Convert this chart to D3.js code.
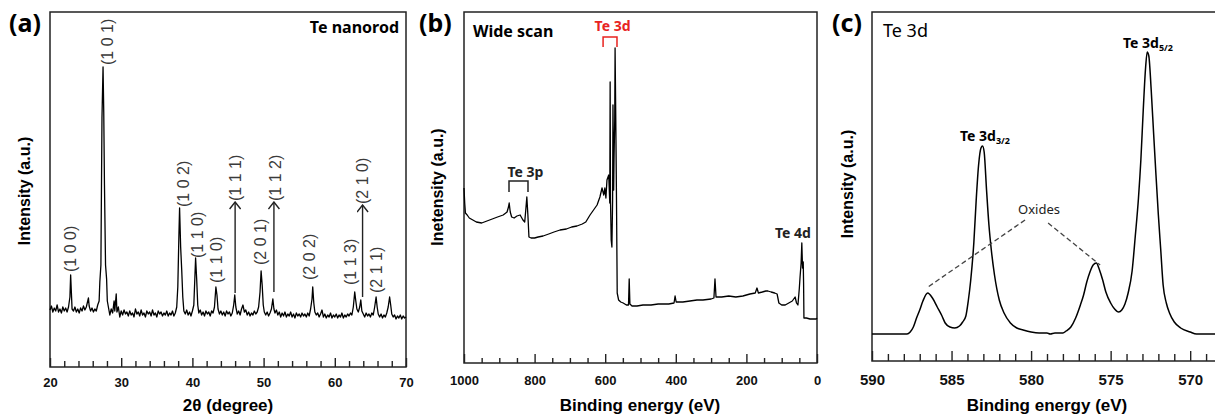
<!DOCTYPE html>
<html>
<head>
<meta charset="utf-8">
<script src="https://cdn.jsdelivr.net/npm/d3@7"></script>
<style>
  body { margin: 0; background: #fff; }
  svg { display: block; }
</style>
</head>
<body>
<div id="chart"></div>
<script>
// (a) XRD pattern, [2theta (deg), intensity (a.u.)]
const xrdScan = [
  [20.0,57],[20.2,61],[20.4,55],[20.6,59],[20.8,56],[21.0,62],[21.2,55],[21.4,58],[21.6,54],[21.8,60],
  [22.0,56],[22.2,59],[22.4,55],[22.6,60],[22.8,70],[22.9,92],[23.0,75],[23.1,58],[23.3,56],[23.5,60],
  [23.7,55],[23.9,58],[24.1,54],[24.3,59],[24.5,56],[24.7,61],[24.9,57],[25.1,60],[25.3,66],[25.4,69],
  [25.5,61],[25.7,56],[25.9,59],[26.1,55],[26.3,58],[26.5,56],[26.7,62],[26.9,66],[27.0,85],[27.15,102],
  [27.3,249],[27.45,300],[27.55,255],[27.65,182],[27.8,102],[27.95,88],[28.05,66],[28.2,60],[28.4,52],[28.6,58],
  [28.8,54],[29.0,66],[29.1,56],[29.3,73],[29.4,55],[29.6,60],[29.8,50],[30.0,56],[30.2,52],[30.4,57],
  [30.6,53],[30.8,55],[31.0,51],[31.2,56],[31.4,52],[31.6,54],[31.8,50],[32.0,58],[32.2,53],[32.4,55],
  [32.6,51],[32.8,57],[33.0,52],[33.2,54],[33.4,50],[33.6,56],[33.8,53],[34.0,55],[34.2,51],[34.4,57],
  [34.6,52],[34.8,54],[35.0,50],[35.2,56],[35.4,53],[35.6,55],[35.8,51],[36.0,54],[36.2,52],[36.4,56],
  [36.6,51],[36.8,54],[37.0,52],[37.2,56],[37.4,51],[37.6,54],[37.8,60],[37.95,80],[38.1,130],[38.2,159],
  [38.35,120],[38.5,97],[38.65,70],[38.8,56],[39.0,53],[39.2,57],[39.4,52],[39.6,55],[39.8,51],[40.0,56],
  [40.2,62],[40.35,90],[40.45,109],[40.6,88],[40.75,62],[40.9,54],[41.1,57],[41.3,52],[41.5,55],[41.7,51],
  [41.9,56],[42.1,53],[42.3,55],[42.5,51],[42.7,56],[42.9,54],[43.1,60],[43.3,80],[43.45,72],[43.6,58],
  [43.8,53],[44.0,56],[44.2,52],[44.4,55],[44.6,51],[44.8,56],[45.0,53],[45.2,55],[45.4,51],[45.6,54],
  [45.8,62],[45.95,72],[46.1,60],[46.3,53],[46.5,56],[46.7,52],[46.9,58],[47.1,62],[47.3,55],[47.5,57],
  [47.7,52],[47.9,55],[48.1,51],[48.3,54],[48.5,52],[48.7,56],[48.9,53],[49.1,55],[49.3,60],[49.5,75],
  [49.65,96],[49.8,82],[49.95,62],[50.1,55],[50.3,52],[50.5,55],[50.7,51],[50.9,54],[51.1,58],[51.3,68],
  [51.45,58],[51.6,54],[51.8,57],[52.0,52],[52.2,55],[52.4,50],[52.6,54],[52.8,51],[53.0,55],[53.2,50],
  [53.4,53],[53.6,51],[53.8,55],[54.0,50],[54.2,53],[54.4,49],[54.6,54],[54.8,51],[55.0,53],[55.2,50],
  [55.4,54],[55.6,51],[55.8,53],[56.0,50],[56.2,54],[56.4,51],[56.6,58],[56.8,68],[56.9,80],[57.05,64],
  [57.2,55],[57.4,52],[57.6,54],[57.8,50],[58.0,53],[58.2,57],[58.4,50],[58.6,53],[58.8,49],[59.0,52],
  [59.2,50],[59.4,54],[59.6,49],[59.8,52],[60.0,50],[60.2,53],[60.4,49],[60.6,52],[60.8,50],[61.0,54],
  [61.2,49],[61.4,52],[61.6,50],[61.8,53],[62.0,51],[62.2,54],[62.4,52],[62.6,60],[62.8,75],[62.95,66],
  [63.1,58],[63.3,55],[63.5,60],[63.65,67],[63.8,56],[64.0,53],[64.2,50],[64.4,54],[64.6,51],[64.8,53],
  [65.0,50],[65.2,54],[65.4,52],[65.6,60],[65.8,70],[65.95,60],[66.1,53],[66.3,50],[66.5,53],[66.7,49],
  [66.9,52],[67.1,50],[67.3,54],[67.5,60],[67.7,70],[67.85,62],[68.0,53],[68.2,50],[68.4,52],[68.6,48],
  [68.8,51],[69.0,49],[69.2,52],[69.4,48],[69.6,51],[69.8,49],[70.0,50]
]
const xrdTicks = [20, 30, 40, 50, 60, 70]
// hkl labels: angle, intensity at the start of the (rotated) text
const xrdLabels = [
  ['(1 0 0)', 22.8, 95], ['(1 0 1)', 28.1, 302], ['(1 0 2)', 38.7, 160], ['(1 1 0)', 40.65, 109],
  ['(1 1 0)', 43.3, 84], ['(1 1 1)', 46.0, 166], ['(2 0 1)', 49.5, 102], ['(1 1 2)', 51.7, 166],
  ['(2 0 2)', 56.4, 87], ['(1 1 3)', 62.1, 82], ['(2 1 0)', 63.8, 163], ['(2 1 1)', 65.8, 74]
]
const xrdArrows = [[46.0, 74, 165], [51.45, 75, 165], [63.9, 70, 162]]

// (b) XPS wide scan, [binding energy (eV), intensity (a.u.)]
const xpsWide = [
  [1000,175],[998,160],[996,150],[991,148],[985,145],[975,143],[965,141],[950,140],[935,142],[920,144],
  [905,146],[889,148],[878,151],[874,156],[872,160],[869,151],[865,146],[858,145],[850,147],[841,148],
  [833,143],[828,141],[825,153],[822,166],[819,148],[816,126],[810,125],[800,125],[790,126],[776,127],
  [760,129],[745,131],[728,133],[710,134],[695,136],[680,137],[665,139],[655,141],[643,148],[633,153],
  [623,158],[615,166],[609,175],[604,168],[601,175],[598,165],[595,183],[590,188],[587,160],[586,281],
  [585,163],[583,123],[581,116],[579,163],[578,258],[576,173],[575,203],[573,243],[572,315],[570,243],
  [568,163],[566,70],[562,63],[556,61],[549,60],[540,58],[534,58],[532,84],[530,59],[524,57],
  [510,57],[493,58],[470,58],[450,59],[420,59],[405,60],[402,67],[399,61],[380,61],[360,62],
  [340,63],[323,63],[300,64],[292,65],[289,84],[286,66],[270,66],[250,67],[230,66],[210,67],
  [190,69],[175,70],[170,75],[166,70],[155,71],[145,72],[139,72],[130,71],[120,70],[113,69],
  [108,60],[100,58],[90,58],[80,60],[70,62],[62,66],[58,60],[54,58],[50,75],[48,86],
  [45,100],[43,120],[41,95],[39,101],[38,80],[37,45],[30,45],[20,44],[10,44],[2,44],[0,45]
]
const wideTicks = [1000, 800, 600, 400, 200, 0]
const wideLabels = [['Te 3p', 877, 186, '#222'], ['Te 3d', 630, 332, '#e8231f'], ['Te 4d', 119, 125, '#222']]
// brackets: from BE, to BE, top intensity, leg intensity
const wideBrackets = [[872.5, 818.7, 182, 171, '#222'], [606, 566.6, 326, 316, '#e8231f']]

// (c) XPS Te 3d core level, [binding energy (eV), intensity (a.u.)]
const xpsTe3d = [
  [590,27],[589,27],[588.4,27],[588,27],[587.8,27],[587.6,29],[587.4,34],[587.2,43],[587.0,51],[586.8,60],
  [586.5,68],[586.2,63],[585.9,54],[585.6,45],[585.4,38],[585.1,34],[584.8,33],[584.5,35],[584.3,39],[584.1,45],
  [583.95,60],[583.8,80],[583.6,118],[583.45,161],[583.3,196],[583.15,213],[583.05,215],[582.95,209],[582.8,171],[582.65,136],
  [582.5,111],[582.3,86],[582.0,61],[581.7,48],[581.3,38],[580.9,33],[580.5,31],[580.0,29],[579.5,28],[579.0,28],
  [578.8,27],[578.5,28],[578.0,28],[577.8,30],[577.5,34],[577.2,43],[576.9,56],[576.7,66],[576.5,79],[576.3,89],
  [576.1,96],[575.9,98],[575.7,91],[575.5,81],[575.3,69],[575.0,58],[574.75,52],[574.5,49],[574.3,51],[574.1,57],
  [573.9,68],[573.65,90],[573.45,125],[573.25,163],[573.1,201],[572.95,251],[572.8,294],[572.7,309],[572.6,305],[572.45,271],
  [572.3,228],[572.15,186],[572.0,146],[571.85,111],[571.7,76],[571.5,58],[571.3,48],[571.0,39],[570.6,33],[570.0,29],
  [569.6,27],[569,27],[568,27]
]
const te3dTicks = [590, 585, 580, 575, 570]
const oxideLeaders = [[[580.38, 141], [586.48, 74]], [[578.93, 138], [575.66, 96]]]

const svg = d3.select('#chart').append('svg')
  .attr('width', 1215)
  .attr('height', 418)

// open chevron, always pointing up
svg.append('defs').append('marker')
  .attr('id', 'head')
  .attr('viewBox', '0 0 12 10')
  .attr('refX', 6).attr('refY', 1)
  .attr('markerWidth', 12).attr('markerHeight', 10)
  .attr('markerUnits', 'userSpaceOnUse')
  .attr('orient', '0')
  .append('path')
  .attr('d', 'M0.5,8 L6,1 L11.5,8')
  .attr('fill', 'none').attr('stroke', '#222').attr('stroke-width', 1.4)

const AXIS_FONT = 'Liberation Sans, Arial, sans-serif'
const LABEL_FONT = 'Noto Sans, Open Sans, sans-serif'

// frame, ticks, axis titles for one panel
const drawPanel = (p) => {
  const g = svg.append('g')
  const x = d3.scaleLinear().domain(p.xDomain).range([p.left, p.right])
  const y = d3.scaleLinear().domain(p.yDomain).range([p.bottom, p.top])

  g.append('g').attr('transform', `translate(0,${p.bottom})`)
    .call(d3.axisBottom(x).tickValues(p.minor).tickSize(-p.minorLen).tickFormat(''))
  const major = g.append('g').attr('transform', `translate(0,${p.bottom})`)
    .call(d3.axisBottom(x).tickValues(p.major).tickSize(-p.majorLen).tickPadding(p.pad).tickFormat(d3.format('d')))
  g.selectAll('.domain').remove()
  g.selectAll('.tick line').attr('stroke', '#222').attr('stroke-width', 1.4)
  major.selectAll('text')
    .attr('font-family', AXIS_FONT).attr('font-weight', 'bold')
    .attr('font-size', p.tickFont).attr('fill', '#111')

  g.append('rect')
    .attr('x', p.left).attr('y', p.top)
    .attr('width', p.right - p.left).attr('height', p.bottom - p.top)
    .attr('fill', 'none').attr('stroke', '#222').attr('stroke-width', 1.5)

  g.append('text')
    .attr('x', p.titleX).attr('y', 411)
    .attr('text-anchor', 'middle')
    .attr('font-family', AXIS_FONT).attr('font-weight', 'bold').attr('font-size', 17)
    .text(p.xTitle)
  g.append('text')
    .attr('transform', `translate(${p.yTitleX},${p.yTitleY}) rotate(-90)`)
    .attr('text-anchor', 'middle')
    .attr('font-family', AXIS_FONT).attr('font-weight', 'bold').attr('font-size', 16)
    .text(p.yTitle)
  g.append('text')
    .attr('x', p.letterX).attr('y', 32)
    .attr('font-family', LABEL_FONT).attr('font-weight', 'bold').attr('font-size', 25)
    .text(p.letter)

  g.append('path')
    .datum(p.data)
    .attr('d', d3.line().x(d => x(d[0])).y(d => y(d[1])).curve(p.curve || d3.curveLinear))
    .attr('fill', 'none').attr('stroke', '#000').attr('stroke-width', p.lineWidth)
    .attr('stroke-linejoin', 'round')

  return { g, x, y }
}

// (a)
const a = drawPanel({
  left: 50, right: 406, top: 12, bottom: 367,
  xDomain: [20, 70], yDomain: [0, 355],
  major: xrdTicks, minor: d3.range(22, 70, 2).filter(v => v % 10 != 0),
  majorLen: 9, minorLen: 6, pad: 11, tickFont: 13,
  xTitle: '2θ (degree)', titleX: 228,
  yTitle: 'Intensity (a.u.)', yTitleX: 30, yTitleY: 191,
  letter: '(a)', letterX: 9,
  data: xrdScan, lineWidth: 1.3
})
a.g.append('text')
  .attr('x', 399).attr('y', 33).attr('text-anchor', 'end')
  .attr('font-family', LABEL_FONT).attr('font-weight', 'bold').attr('font-size', 16)
  .text('Te nanorod')
a.g.selectAll('.hkl').data(xrdLabels).join('text')
  .attr('class', 'hkl')
  .attr('transform', d => `translate(${a.x(d[1])},${a.y(d[2])}) rotate(-90)`)
  .attr('dy', '0.36em')
  .attr('font-family', AXIS_FONT).attr('font-size', 16).attr('fill', '#3a3a3a')
  .text(d => d[0])
a.g.selectAll('.arrow').data(xrdArrows).join('line')
  .attr('class', 'arrow')
  .attr('x1', d => a.x(d[0])).attr('x2', d => a.x(d[0]))
  .attr('y1', d => a.y(d[1])).attr('y2', d => a.y(d[2]))
  .attr('stroke', '#222').attr('stroke-width', 1.4)
  .attr('marker-end', 'url(#head)')

// (b)
const b = drawPanel({
  left: 464, right: 817, top: 12, bottom: 363,
  xDomain: [1000, 0], yDomain: [0, 351],
  major: wideTicks, minor: d3.range(50, 1000, 50).filter(v => v % 200 != 0),
  majorLen: 9, minorLen: 5, pad: 13, tickFont: 13,
  xTitle: 'Binding energy (eV)', titleX: 640,
  yTitle: 'Inetensity (a.u.)', yTitleX: 443, yTitleY: 187,
  letter: '(b)', letterX: 419,
  data: xpsWide, lineWidth: 1.3
})
b.g.append('text')
  .attr('x', 473).attr('y', 37)
  .attr('font-family', LABEL_FONT).attr('font-weight', 'bold').attr('font-size', 16)
  .text('Wide scan')
b.g.selectAll('.peak').data(wideLabels).join('text')
  .attr('class', 'peak')
  .attr('x', d => b.x(d[1])).attr('y', d => b.y(d[2]))
  .attr('font-family', LABEL_FONT).attr('font-weight', 'bold').attr('font-size', 14)
  .attr('fill', d => d[3])
  .text(d => d[0])
b.g.selectAll('.bracket').data(wideBrackets).join('path')
  .attr('class', 'bracket')
  .attr('d', d => `M${b.x(d[0])},${b.y(d[3])}V${b.y(d[2])}H${b.x(d[1])}V${b.y(d[3])}`)
  .attr('fill', 'none').attr('stroke', d => d[4]).attr('stroke-width', 1.5)

// (c)
const c = drawPanel({
  left: 872, right: 1222, top: 12, bottom: 361,
  xDomain: [590, 568], yDomain: [0, 349],
  major: te3dTicks, minor: d3.range(568, 591, 1).filter(v => v % 5 != 0),
  majorLen: 10, minorLen: 7, pad: 13, tickFont: 15,
  xTitle: 'Binding energy (eV)', titleX: 1047,
  yTitle: 'Intensity (a.u.)', yTitleX: 853, yTitleY: 184,
  letter: '(c)', letterX: 832,
  data: xpsTe3d, lineWidth: 1.5, curve: d3.curveMonotoneX
})
c.g.append('text')
  .attr('x', 883).attr('y', 37)
  .attr('font-family', LABEL_FONT).attr('font-size', 18)
  .text('Te 3d')
const subLabel = (x0, y0, sub) => {
  const t = c.g.append('text')
    .attr('x', x0).attr('y', y0)
    .attr('font-family', LABEL_FONT).attr('font-weight', 'bold').attr('font-size', 14)
  t.append('tspan').text('Te 3d')
  t.append('tspan').attr('font-size', 9).attr('dy', 3).text(sub)
}
subLabel(1123, 48, '5/2')
subLabel(960, 141, '3/2')
c.g.append('text')
  .attr('x', 1039).attr('y', 214).attr('text-anchor', 'middle')
  .attr('font-family', LABEL_FONT).attr('font-size', 13).attr('fill', '#222')
  .text('Oxides')
c.g.selectAll('.leader').data(oxideLeaders).join('line')
  .attr('class', 'leader')
  .attr('x1', d => c.x(d[0][0])).attr('y1', d => c.y(d[0][1]))
  .attr('x2', d => c.x(d[1][0])).attr('y2', d => c.y(d[1][1]))
  .attr('stroke', '#444').attr('stroke-width', 1.3).attr('stroke-dasharray', '5,3')
</script>
</body>
</html>
